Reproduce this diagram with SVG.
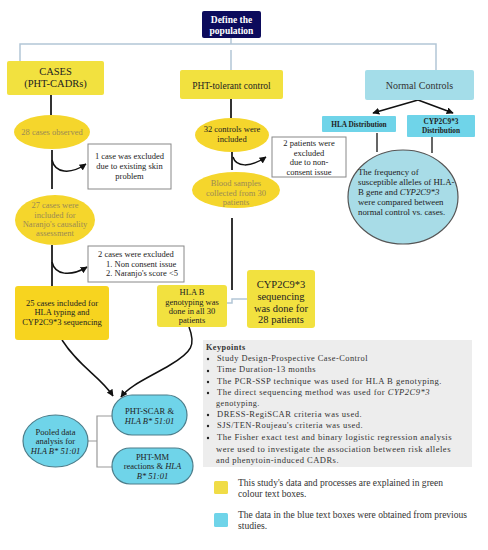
<svg xmlns="http://www.w3.org/2000/svg" width="488" height="550" viewBox="0 0 488 550" font-family="'Liberation Serif', 'Times New Roman', serif">
<defs>
<marker id="ah" viewBox="0 0 10 10" refX="9" refY="5" markerWidth="7" markerHeight="7" orient="auto" markerUnits="userSpaceOnUse">
<path d="M0,0 L10,5 L0,10 z" fill="#111"/>
</marker>
<style>
text{fill:#222;}
.c{text-anchor:middle;}
.s85{font-size:8.5px;}
.s10{font-size:10.5px;}
.tan{fill:#9a8a55;}
.it{font-style:italic;}
.yb{fill:#f2e13f;}
.yd{fill:#f7d41f;}
.ye{fill:#f5d62c;}
.bl{fill:#6fd4e9;stroke:#4d7d8a;stroke-width:1.2;}
.wb{fill:#fff;stroke:#888;stroke-width:1;}
.sep{stroke:#333;stroke-width:2;fill:none;}
.lb{stroke:#b3c6d6;stroke-width:1.5;fill:none;}
.arr{stroke:#111;stroke-width:1.5;fill:none;marker-end:url(#ah);}
.kp{font-size:8.2px;letter-spacing:0.45px;fill:#333;}
.lg{font-size:9.6px;fill:#333;}
</style>
</defs>
<rect width="488" height="550" fill="#fff"/>

<g id="connectors">
<path class="lb" d="M231,38 V44 M20,61 V44 H436 V70 M231,50 V70"/>
<path class="sep" d="M51,95 V115 M52,150 V189 M52,245 V286 M231,99 V118 M232,152 V170 M232,218 V290"/>
<path class="arr" d="M52,160 C55,173 70,175 86,164"/>
<path class="arr" d="M52,262 C55,275 70,277 87,267"/>
<path class="arr" d="M233,157 C236,167 250,168 266,157"/>
<path class="arr" d="M418,100 L373,113"/>
<path class="arr" d="M418,100 L453,113"/>
<path class="sep" style="stroke-width:1.5" d="M377,133 V152 M432,137 V153"/>
<path class="lb" d="M227,303 H232 V299 H247"/>
<path class="arr" d="M62,340 C80,368 100,376 113,396"/>
<path class="arr" d="M189,327 C196,345 192,352 170,365 C150,377 130,385 121,397"/>
<path stroke="#999" stroke-width="1.2" fill="none" d="M88,441 H97 M112,416 H97 V467 H112"/>
</g>

<g id="define">
<rect x="202" y="11" width="59" height="27" rx="2" fill="#0c0b5c"/>
<text class="c" x="231.5" y="22.5" style="font-size:9.5px;font-weight:bold;fill:#fff">Define the</text>
<text class="c" x="231.5" y="33.5" style="font-size:9.5px;font-weight:bold;fill:#fff">population</text>
</g>

<g id="cases">
<rect class="yb" x="7" y="61" width="97" height="34" rx="2"/>
<text class="c s10" x="55.5" y="75">CASES</text>
<text class="c s10" x="55.5" y="87">(PHT-CADRs)</text>
</g>

<g id="tolerant">
<rect class="yb" x="180" y="70" width="103" height="29" rx="2"/>
<text class="c" x="231.5" y="89" style="font-size:9.5px">PHT-tolerant control</text>
</g>

<g id="normal">
<rect x="365" y="70" width="109" height="30" rx="2" fill="#a4dde9"/>
<text class="c" x="419.5" y="89" style="font-size:10px;fill:#333">Normal Controls</text>
</g>

<g id="hladist">
<rect x="322" y="116" width="74" height="16" rx="1" fill="#6fd4e9"/>
<text class="c" x="359" y="127" style="font-size:7.3px;font-weight:bold">HLA Distribution</text>
</g>

<g id="cypdist">
<rect x="407" y="115" width="68" height="22" rx="1" fill="#6fd4e9"/>
<text class="c" x="441" y="124" style="font-size:7.3px;font-weight:bold">CYP2C9*3</text>
<text class="c" x="441" y="133" style="font-size:7.3px;font-weight:bold">Distribution</text>
</g>

<g id="frequency">
<ellipse cx="403" cy="197" rx="55" ry="47" fill="#a8dce7" stroke="#555" stroke-width="1.2"/>
<text x="358" y="175" style="font-size:8.8px">The frequency of</text>
<text x="358" y="185" style="font-size:8.8px">susceptible alleles of HLA-</text>
<text x="358" y="195" style="font-size:8.8px">B gene and <tspan class="it">CYP2C9*3</tspan></text>
<text x="358" y="205" style="font-size:8.8px">were compared between</text>
<text x="358" y="215" style="font-size:8.8px">normal control  vs. cases.</text>
</g>

<g id="observed28">
<ellipse class="ye" cx="52" cy="132" rx="38" ry="17"/>
<text class="c s85 tan" x="52" y="135">28 cases observed</text>
</g>

<g id="excluded1">
<rect class="wb" x="88" y="144" width="83" height="45"/>
<text class="c s85" x="129.5" y="159">1 case was excluded</text>
<text class="c s85" x="129.5" y="169">due to existing skin</text>
<text class="c s85" x="129.5" y="179">problem</text>
</g>

<g id="included27">
<ellipse class="ye" cx="55" cy="220" rx="40" ry="25"/>
<text class="c s85 tan" x="55" y="208">27 cases were</text>
<text class="c s85 tan" x="55" y="218">included for</text>
<text class="c s85 tan" x="55" y="227">Naranjo's causality</text>
<text class="c s85 tan" x="55" y="236">assessment</text>
</g>

<g id="excluded2">
<rect class="wb" x="88" y="246" width="96" height="36"/>
<text class="c s85" x="136" y="257">2 cases were excluded</text>
<text class="s85" x="106" y="267">1. Non consent issue</text>
<text class="s85" x="106" y="276">2. Naranjo's score &lt;5</text>
</g>

<g id="cases25">
<rect class="yd" x="15" y="286" width="94" height="54" rx="3"/>
<text class="c s85" x="62" y="306">25 cases included for</text>
<text class="c s85" x="62" y="315">HLA typing and</text>
<text class="c s85" x="62" y="325">CYP2C9*3 sequencing</text>
</g>

<g id="controls32">
<ellipse class="ye" cx="232" cy="135" rx="37" ry="17"/>
<text class="c s85" x="232" y="132">32 controls were</text>
<text class="c s85" x="232" y="142">included</text>
</g>

<g id="excluded3">
<rect class="wb" x="272" y="137" width="74" height="40"/>
<text class="c s85" x="309" y="146">2 patients were</text>
<text class="c s85" x="309" y="156">excluded</text>
<text class="c s85" x="309" y="165">due to non-</text>
<text class="c s85" x="309" y="175">consent issue</text>
</g>

<g id="blood">
<ellipse class="ye" cx="236" cy="190" rx="44" ry="18"/>
<text class="c s85 tan" x="236" y="186">Blood samples</text>
<text class="c s85 tan" x="236" y="196">collected from 30</text>
<text class="c s85 tan" x="236" y="205">patients</text>
</g>

<g id="hlab">
<rect class="yb" x="157" y="285" width="70" height="42" rx="3"/>
<text class="c s85" x="192" y="295">HLA B</text>
<text class="c s85" x="192" y="305">genotyping  was</text>
<text class="c s85" x="192" y="314">done in all 30</text>
<text class="c s85" x="192" y="323">patients</text>
</g>

<g id="cyp">
<rect class="yb" x="247" y="270" width="68" height="58" rx="3"/>
<text class="c s10" x="281" y="288">CYP2C9*3</text>
<text class="c s10" x="281" y="300">sequencing</text>
<text class="c s10" x="281" y="312">was done for</text>
<text class="c s10" x="281" y="323">28 patients</text>
</g>

<g id="scar">
<rect class="bl" x="112" y="395" width="75" height="40" rx="20"/>
<text class="c s85" x="149.5" y="414">PHT-SCAR &amp;</text>
<text class="c s85 it" x="149.5" y="424">HLA B* 51:01</text>
</g>

<g id="mm">
<rect class="bl" x="112" y="448" width="81" height="36" rx="18"/>
<text class="c s85" x="152.5" y="460">PHT-MM</text>
<text class="c s85" x="152.5" y="469">reactions &amp; <tspan class="it">HLA</tspan></text>
<text class="c s85 it" x="152.5" y="479">B* 51:01</text>
</g>

<g id="pooled">
<ellipse class="bl" cx="55.5" cy="441" rx="32.5" ry="26"/>
<text class="c s85" x="55.5" y="435">Pooled data</text>
<text class="c s85" x="55.5" y="444">analysis for</text>
<text class="c s85 it" x="55.5" y="454">HLA B* 51:01</text>
</g>

<g id="keypoints">
<rect x="203" y="340" width="269" height="127" fill="#ededed"/>
<text class="kp" x="206" y="350" style="font-weight:bold">Keypoints</text>
<g fill="#222">
<circle cx="208" cy="359" r="1.2"/>
<circle cx="208" cy="371" r="1.2"/>
<circle cx="208" cy="382" r="1.2"/>
<circle cx="208" cy="393" r="1.2"/>
<circle cx="208" cy="415" r="1.2"/>
<circle cx="208" cy="426" r="1.2"/>
<circle cx="208" cy="438" r="1.2"/>
</g>
<text class="kp" x="217" y="361" textLength="151" lengthAdjust="spacingAndGlyphs">Study Design-Prospective Case-Control</text>
<text class="kp" x="217" y="372" textLength="99" lengthAdjust="spacingAndGlyphs">Time Duration-13 months</text>
<text class="kp" x="217" y="384" textLength="225" lengthAdjust="spacingAndGlyphs">The PCR-SSP technique was used for HLA B genotyping.</text>
<text class="kp" x="217" y="395" textLength="213" lengthAdjust="spacingAndGlyphs">The direct sequencing method was used for <tspan class="it">CYP2C9*3</tspan></text>
<text class="kp" x="216" y="406">genotyping.</text>
<text class="kp" x="217" y="417" textLength="145" lengthAdjust="spacingAndGlyphs">DRESS-RegiSCAR criteria was used.</text>
<text class="kp" x="217" y="428" textLength="146" lengthAdjust="spacingAndGlyphs">SJS/TEN-Roujeau's criteria was used.</text>
<text class="kp" x="217" y="440" textLength="235" lengthAdjust="spacingAndGlyphs">The Fisher exact test and binary logistic regression analysis</text>
<text class="kp" x="216" y="452" textLength="235" lengthAdjust="spacingAndGlyphs">were used to investigate the association between risk alleles</text>
<text class="kp" x="216" y="463" textLength="123" lengthAdjust="spacingAndGlyphs">and phenytoin-induced CADRs.</text>
</g>

<g id="legend">
<rect x="214" y="481" width="14" height="13" rx="1.5" fill="#f0dc46"/>
<text class="lg" x="238" y="486" textLength="205" lengthAdjust="spacingAndGlyphs">This study's data and processes are explained in green</text>
<text class="lg" x="238" y="497">colour text boxes.</text>
<rect x="214" y="513" width="14" height="14" rx="1.5" fill="#6fd4e9"/>
<text class="lg" x="238" y="518" textLength="229" lengthAdjust="spacingAndGlyphs">The data in the blue text boxes were obtained from previous</text>
<text class="lg" x="238" y="529">studies.</text>
</g>
</svg>
